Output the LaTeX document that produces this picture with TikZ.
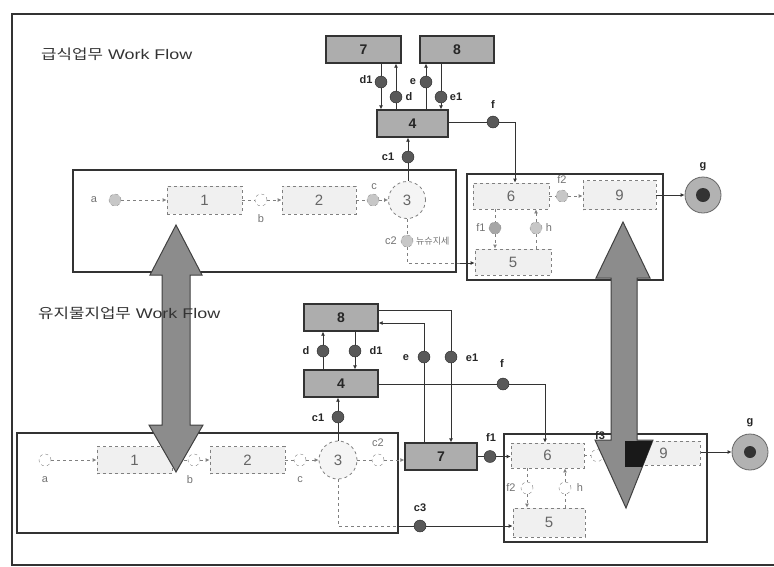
\documentclass[tikz,border=0pt]{standalone}
\usepackage{fontspec}
\setmainfont{Liberation Sans}
\newfontfamily\kr{Noto Sans CJK KR}
\newfontfamily\ttlfont[FakeStretch=1.28]{Liberation Sans}
\newfontfamily\krw[FakeStretch=1.2]{Noto Sans CJK KR}
\usetikzlibrary{arrows.meta}
\pgfdeclarelayer{bg}
\pgfdeclarelayer{fg}
\pgfdeclarelayer{top}
\pgfsetlayers{bg,main,fg,top}
\begin{document}
\begin{tikzpicture}[x=1pt,y=-1pt,
  gbox/.style={draw=black!80, line width=1.3pt, fill=black!32, minimum width=74pt, minimum height=27pt, inner sep=0pt, font=\bfseries\fontsize{14}{14}\selectfont, text=black!85},
  dbox/.style={draw=black!50, dashed, line width=0.8pt, fill=black!6, minimum width=75pt, minimum height=28pt, inner sep=0pt, font=\fontsize{15}{15}\selectfont, text=black!60},
  circ/.style={circle, draw=black!50, dashed, line width=0.8pt, fill=black!4, minimum size=37pt, inner sep=0pt, font=\fontsize{15}{15}\selectfont, text=black!60},
  ddot/.style={circle, draw=black!85, fill=black!65, minimum size=12pt, inner sep=0pt},
  ldot/.style={circle, draw=black!45, dashed, fill=black!22, minimum size=12pt, inner sep=0pt},
  odot/.style={circle, draw=black!50, dashed, fill=white, minimum size=12pt, inner sep=0pt},
  gnode/.style={circle, draw=black!60, line width=0.8pt, fill=black!30, minimum size=36pt, inner sep=0pt},
  gin/.style={circle, fill=black!80, minimum size=14pt, inner sep=0pt},
  lbl/.style={font=\bfseries\fontsize{11}{11}\selectfont, text=black!85, inner sep=1pt},
  llbl/.style={font=\fontsize{11}{11}\selectfont, text=black!55, inner sep=1pt},
  ttl/.style={font=\ttlfont\fontsize{14}{14}\selectfont, text=black!80, anchor=west, inner sep=0pt},
  conn/.style={draw=black!80, line width=0.9pt},
  dconn/.style={draw=black!50, dashed, line width=0.8pt},
  arr/.style={-{Latex[length=4pt,width=4pt]}},
  frame/.style={draw=black!80, line width=1.2pt},
  bigarrow/.style={draw=black!75, line width=1pt, fill=black!45}
]
\useasboundingbox (0,0) rectangle (774,566);

% ---------- titles ----------
\begin{pgfonlayer}{top}
\node[ttl] (title1) at (41,54) {{\krw 급식업무} Work Flow};
\node[ttl] (title2) at (38,313) {{\krw 유지물지업무} Work Flow};
\node[lbl] (f3lbl) at (600,436) {f3};
\end{pgfonlayer}

% ---------- top section nodes ----------
\node[gbox,minimum width=75pt] (T7) at (363.5,49.5) {7};
\node[gbox] (T8) at (457,49.5) {8};
\node[gbox,minimum width=71pt] (T4) at (412.5,123.5) {4};
\node[ddot] (Td1) at (381,82) {};
\node[ddot] (Td) at (396,97) {};
\node[ddot] (Te) at (426,82) {};
\node[ddot] (Te1) at (441,97) {};
\node[ddot] (Tf) at (493,122) {};
\node[ddot] (Tc1) at (408,157) {};

\node[ldot] (Ta) at (115,200) {};
\node[dbox] (T1) at (204.5,200) {1};
\node[odot] (Tb) at (261,200) {};
\node[dbox,minimum width=74pt] (T2) at (319,200) {2};
\node[ldot] (Tc) at (373,200) {};
\node[circ] (T3) at (407,200) {3};
\node[ldot] (Tc2) at (407,241) {};
\coordinate (Tc2k) at (407,263);

\node[dbox,minimum width=76pt,minimum height=26pt] (T6) at (511,196) {6};
\node[ldot] (Tf2) at (562,196) {};
\node[dbox,minimum width=73pt,minimum height=29pt] (T9) at (619.5,195) {9};
\node[gnode] (Tg) at (703,195) {};
\node[gin] (Tgi) at (703,195) {};
\node[ldot,fill=black!35] (Tf1) at (495,228) {};
\node[ldot] (Th) at (536,228) {};
\node[dbox,minimum width=76pt,minimum height=26pt] (T5) at (513,262) {5};
\coordinate (Tfk) at (515,122);

% top labels
\node[lbl] at (366,80) {d1};
\node[lbl] at (409,97) {d};
\node[lbl] at (413,82) {e};
\node[lbl] at (456,97) {e1};
\node[lbl] at (493,105) {f};
\node[lbl] at (388,157) {c1};
\node[lbl] at (703,167) {g};
\node[llbl] at (94,200) {a};
\node[llbl] at (261,219) {b};
\node[llbl] at (374,187) {c};
\node[llbl] at (391,241) {c2};
\node[llbl,anchor=west,font=\kr\fontsize{9}{9}\selectfont] at (415,241) {뉴슈지세};
\node[llbl] at (562,180) {f2};
\node[llbl] at (481,228) {f1};
\node[llbl] at (549,228) {h};

% ---------- bottom section nodes ----------
\node[gbox] (B8) at (341,317.5) {8};
\node[gbox] (B4) at (341,383.5) {4};
\node[ddot] (Bd) at (323,351) {};
\node[ddot] (Bd1) at (355,351) {};
\node[ddot] (Be) at (424,357) {};
\node[ddot] (Be1) at (451,357) {};
\node[ddot] (Bf) at (503,384) {};
\node[ddot] (Bc1) at (338,417) {};
\node[gbox,minimum width=72pt] (B7) at (441,456.5) {7};
\node[ddot] (Bf1) at (490,456.5) {};
\coordinate (Bek) at (424,323);
\coordinate (Be1k) at (451,310);
\coordinate (Bfk) at (545,384);

\node[odot] (Ba) at (45,460) {};
\node[dbox,minimum height=27pt] (B1) at (134.5,460) {1};
\node[odot] (Bb) at (194,460) {};
\node[dbox,minimum height=27pt] (B2) at (247.5,460) {2};
\node[odot] (Bc) at (300,460) {};
\node[circ,minimum size=38pt] (B3) at (338,460) {3};
\node[odot] (Bc2) at (378,460) {};
\node[ddot] (Bc3) at (420,526) {};
\coordinate (Bc3a) at (338,526);
\coordinate (Bc3b) at (398,526);

\node[dbox,minimum width=73pt,minimum height=25pt] (B6) at (547.5,455.5) {6};
\node[odot] (Bf3) at (597,455.5) {};
\node[dbox,minimum width=73pt,minimum height=24pt] (B9) at (663.5,453) {9};
\node[gnode] (Bg) at (750,452) {};
\node[gin,minimum size=12pt] (Bgi) at (750,452) {};
\node[odot] (Bf2) at (527,488) {};
\node[odot] (Bh) at (565,488) {};
\node[dbox,minimum width=72pt,minimum height=29pt] (B5) at (549,522.5) {5};

% bottom labels
\node[lbl] at (306,351) {d};
\node[lbl] at (376,351) {d1};
\node[lbl] at (406,358) {e};
\node[lbl] at (472,358) {e1};
\node[lbl] at (502,364) {f};
\node[lbl] at (318,418) {c1};
\node[lbl] at (491,438) {f1};
\node[lbl] at (420,508) {c3};
\node[lbl] at (750,423) {g};
\node[llbl] at (378,443) {c2};
\node[llbl] at (45,480) {a};
\node[llbl] at (190,480) {b};
\node[llbl] at (300,480) {c};
\node[llbl] at (511,488) {f2};
\node[llbl] at (580,488) {h};

% ---------- background: frames and connectors ----------
\begin{pgfonlayer}{bg}
  \draw[frame] (774,14) -- (12,14) -- (12,565) -- (774,565);
  \draw[frame] (73,170) rectangle (456,272);
  \draw[frame] (467,174) rectangle (663,280);
  \draw[frame] (17,433) rectangle (398,533);
  \draw[frame] (504,434) rectangle (707,542);

  % top connectors
  \draw[conn,arr] (Td1 |- T7.south) -- (Td1 |- T4.north);
  \draw[conn,arr] (Td |- T4.north) -- (Td |- T7.south);
  \draw[conn,arr] (Te |- T4.north) -- (Te |- T8.south);
  \draw[conn,arr] (Te1 |- T8.south) -- (Te1 |- T4.north);
  \draw[conn,arr] (Tc1 |- T3.north) -- (Tc1 |- T4.south);
  \draw[conn,arr] (T4.east |- Tf) -- (Tf) -- (Tfk) -- (Tfk |- T6.north);
  \draw[dconn,arr] (Ta) -- (T1.west);
  \draw[dconn] (T1.east) -- (Tb);
  \draw[dconn,arr] (Tb) -- (T2.west);
  \draw[dconn] (T2.east) -- (Tc);
  \draw[dconn,arr] (Tc) -- (T3.west);
  \draw[dconn] (T3.south) -- (Tc2) -- (Tc2k) -- (460,263);
  \draw[conn,arr] (460,263) -- (T5.west |- Tc2k);
  \draw[dconn] (T6.east |- Tf2) -- (Tf2);
  \draw[dconn,arr] (Tf2) -- (T9.west |- Tf2);
  \draw[conn,arr] (T9.east |- Tg) -- (Tg.west);
  \draw[dconn,arr] (Tf1 |- T6.south) -- (Tf1) -- (Tf1 |- T5.north);
  \draw[dconn,arr] (Th |- T5.north) -- (Th) -- (Th |- T6.south);

  % bottom connectors
  \draw[conn,arr] (Bd |- B4.north) -- (Bd |- B8.south);
  \draw[conn,arr] (Bd1 |- B8.south) -- (Bd1 |- B4.north);
  \draw[conn,arr] (Be |- B7.north) -- (Be) -- (Bek) -- (Bek -| B8.east);
  \draw[conn,arr] (B8.east |- Be1k) -- (Be1k) -- (Be1) -- (Be1 |- B7.north);
  \draw[conn,arr] (Bc1 |- B3.north) -- (Bc1 |- B4.south);
  \draw[conn,arr] (B4.east |- Bf) -- (Bf) -- (Bfk) -- (Bfk |- B6.north);
  \draw[conn,arr] (B7.east |- Bf1) -- (Bf1) -- (B6.west |- Bf1);
  \draw[dconn,arr] (Ba) -- (B1.west |- Ba);
  \draw[dconn] (B1.east |- Bb) -- (Bb);
  \draw[dconn,arr] (Bb) -- (B2.west |- Bb);
  \draw[dconn] (B2.east |- Bc) -- (Bc);
  \draw[dconn,arr] (Bc) -- (B3.west);
  \draw[dconn] (B3.east) -- (Bc2);
  \draw[dconn,arr] (Bc2) -- (B7.west |- Bc2);
  \draw[dconn] (B3.south) -- (Bc3a) -- (Bc3b);
  \draw[conn,arr] (Bc3b) -- (Bc3) -- (B5.west |- Bc3);
  \draw[dconn] (B6.east |- Bf3) -- (Bf3);
  \draw[conn,arr] (Bf3) -- (B9.west |- Bf3);
  \draw[conn,arr] (B9.east |- Bg) -- (Bg.west);
  \draw[dconn,arr] (Bf2 |- B6.south) -- (Bf2) -- (Bf2 |- B5.north);
  \draw[dconn,arr] (Bh |- B5.north) -- (Bh) -- (Bh |- B6.south);
\end{pgfonlayer}

% ---------- big double arrows ----------
\begin{pgfonlayer}{fg}
  \draw[bigarrow] (176,225) -- (202,275) -- (190,275) -- (190,425) -- (203,425) -- (176,472)
     -- (149,425) -- (162,425) -- (162,275) -- (150,275) -- cycle;
  \draw[bigarrow] (623,222) -- (650,278) -- (637,278) -- (637,440) -- (653,440) -- (626,508)
     -- (595,440) -- (611,440) -- (611,278) -- (596,278) -- cycle;
  \begin{scope}
    \clip (595,440) -- (653,440) -- (626,508) -- cycle;
    \fill[black!90] (625,441) rectangle (653,467);
  \end{scope}
\end{pgfonlayer}
\end{tikzpicture}
\end{document}
